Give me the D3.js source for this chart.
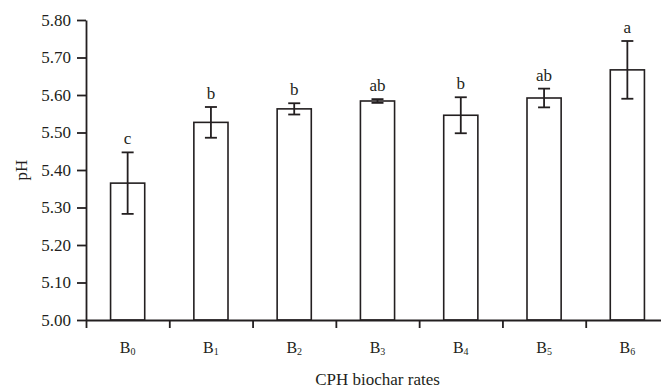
<!DOCTYPE html>
<html>
<head>
<meta charset="utf-8">
<script src="https://cdn.jsdelivr.net/npm/d3@7"></script>
<style>
  body { margin: 0; background: #fff; }
  svg text { font-family: "Liberation Serif", "DejaVu Serif", serif; fill: #231f20; }
</style>
</head>
<body>
<div id="chart"></div>
<script>
// data
const categories = ['B0', 'B1', 'B2', 'B3', 'B4', 'B5', 'B6'];
const subscripts = ['0', '1', '2', '3', '4', '5', '6'];
const phMeans = [5.365, 5.527, 5.563, 5.584, 5.546, 5.592, 5.667];
const phErrors = [0.082, 0.041, 0.015, 0.005, 0.048, 0.025, 0.077];
const letters = ['c', 'b', 'b', 'ab', 'b', 'ab', 'a'];
const yTicks = [5.0, 5.1, 5.2, 5.3, 5.4, 5.5, 5.6, 5.7, 5.8];

const width = 661;
const height = 389;
const margin = { top: 20, right: -8, bottom: 69, left: 86 };
const ink = '#231f20';

const svg = d3.select('#chart')
  .append('svg')
  .attr('width', width)
  .attr('height', height);

const innerRight = width - margin.right;
const innerBottom = height - margin.bottom;

const x = d3.scaleBand()
  .domain(categories)
  .range([margin.left, innerRight])
  .paddingInner(0.59)
  .paddingOuter(0.295);

// boundaries between groups carry the tick marks
const xEdges = d3.scaleLinear()
  .domain([0, categories.length])
  .range([margin.left, innerRight]);

const y = d3.scaleLinear()
  .domain([5.0, 5.8])
  .range([innerBottom, margin.top]);

// bars
svg.selectAll('.bar')
  .data(categories)
  .enter()
  .append('rect')
  .attr('class', 'bar')
  .attr('x', d => x(d))
  .attr('y', (d, i) => y(phMeans[i]))
  .attr('width', x.bandwidth())
  .attr('height', (d, i) => y(5.0) - y(phMeans[i]))
  .attr('fill', '#fff')
  .attr('stroke', ink)
  .attr('stroke-width', 1.6);

// error bars
const capHalf = 6;
const err = svg.selectAll('.err')
  .data(categories)
  .enter()
  .append('g')
  .attr('class', 'err')
  .attr('stroke', ink)
  .attr('stroke-width', 1.8);

err.append('line')
  .attr('x1', d => x(d) + x.bandwidth() / 2)
  .attr('x2', d => x(d) + x.bandwidth() / 2)
  .attr('y1', (d, i) => y(phMeans[i] + phErrors[i]))
  .attr('y2', (d, i) => y(phMeans[i] - phErrors[i]));

err.append('line')
  .attr('x1', d => x(d) + x.bandwidth() / 2 - capHalf)
  .attr('x2', d => x(d) + x.bandwidth() / 2 + capHalf)
  .attr('y1', (d, i) => y(phMeans[i] + phErrors[i]))
  .attr('y2', (d, i) => y(phMeans[i] + phErrors[i]));

err.append('line')
  .attr('x1', d => x(d) + x.bandwidth() / 2 - capHalf)
  .attr('x2', d => x(d) + x.bandwidth() / 2 + capHalf)
  .attr('y1', (d, i) => y(phMeans[i] - phErrors[i]))
  .attr('y2', (d, i) => y(phMeans[i] - phErrors[i]));

// significance letters
svg.selectAll('.letter')
  .data(categories)
  .enter()
  .append('text')
  .attr('class', 'letter')
  .attr('x', d => x(d) + x.bandwidth() / 2)
  .attr('y', (d, i) => y(phMeans[i] + phErrors[i]) - 8)
  .attr('text-anchor', 'middle')
  .style('font-size', '17px')
  .text((d, i) => letters[i]);

// y axis
const yAxis = svg.append('g')
  .attr('transform', `translate(${margin.left},0)`)
  .call(
    d3.axisLeft(y)
      .tickValues(yTicks)
      .tickFormat(d3.format('.2f'))
      .tickSize(9)
      .tickSizeOuter(0)
      .tickPadding(6)
  );
yAxis.selectAll('text').style('font-size', '17px').attr('fill', ink);

// x axis with ticks at group boundaries
const xAxis = svg.append('g')
  .attr('transform', `translate(0,${innerBottom})`)
  .call(
    d3.axisBottom(xEdges)
      .tickValues(d3.range(categories.length + 1))
      .tickFormat(() => '')
      .tickSize(8)
      .tickSizeOuter(0)
  );

[yAxis, xAxis].forEach(g => {
  g.select('.domain').attr('stroke', ink).attr('stroke-width', 1.8);
  g.selectAll('.tick line').attr('stroke', ink).attr('stroke-width', 1.8);
});

// category labels with subscript digits
const labels = svg.selectAll('.cat')
  .data(categories)
  .enter()
  .append('text')
  .attr('class', 'cat')
  .attr('x', d => x(d) + x.bandwidth() / 2)
  .attr('y', innerBottom + 33)
  .attr('text-anchor', 'middle')
  .style('font-size', '16px');

labels.append('tspan').text('B');
labels.append('tspan')
  .attr('dy', 2)
  .style('font-size', '10px')
  .text((d, i) => subscripts[i]);

// axis titles
svg.append('text')
  .attr('x', (margin.left + innerRight) / 2)
  .attr('y', 385)
  .attr('text-anchor', 'middle')
  .style('font-size', '17px')
  .text('CPH biochar rates');

svg.append('text')
  .attr('transform', `translate(27,${(margin.top + innerBottom) / 2}) rotate(-90)`)
  .attr('text-anchor', 'middle')
  .style('font-size', '17px')
  .text('pH');
</script>
</body>
</html>
